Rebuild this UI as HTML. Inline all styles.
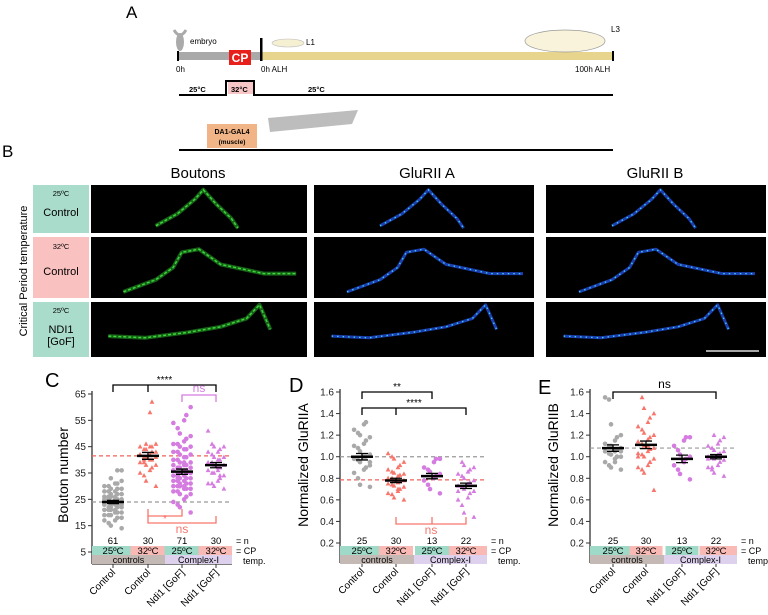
<!DOCTYPE html>
<html><head><meta charset="utf-8"><style>
body{margin:0;background:#fff}
svg{display:block;font-family:"Liberation Sans",Arial,sans-serif}
</style></head><body>
<svg id="fig" width="768" height="615" viewBox="0 0 768 615">
<g>
<text x="126" y="18" font-size="17">A</text>
<ellipse cx="180" cy="42" rx="4" ry="9" fill="#aaa"/>
<path d="M174 30 Q180 40 186 30" stroke="#aaa" stroke-width="3" fill="none"/>
<text x="190" y="44" font-size="8">embryo</text>
<rect x="178" y="52" width="83" height="8" fill="#a9a9a9"/>
<rect x="261" y="52" width="352" height="8" fill="#e7d58e"/>
<rect x="177" y="51" width="2" height="10" fill="#000"/>
<rect x="260" y="38" width="2.5" height="23" fill="#000"/>
<rect x="612" y="51" width="2" height="10" fill="#000"/>
<rect x="229" y="50" width="22" height="15" fill="#e8201c"/>
<text x="240" y="62" font-size="12" font-weight="bold" fill="#fff" text-anchor="middle">CP</text>
<text x="176" y="72" font-size="8">0h</text>
<text x="261" y="72" font-size="8">0h ALH</text>
<text x="575" y="72" font-size="8">100h ALH</text>
<ellipse cx="288" cy="43" rx="16" ry="4" fill="#f6f0d2" stroke="#bbb" stroke-width="0.6"/>
<text x="306" y="45" font-size="8">L1</text>
<ellipse cx="565" cy="41" rx="40" ry="11" fill="#f8f3da" stroke="#999" stroke-width="0.7"/>
<text x="611" y="32" font-size="8">L3</text>
<polyline points="179,95 226,95 226,81 254,81 254,95 613,95" fill="none" stroke="#000" stroke-width="2"/>
<rect x="228" y="82" width="25" height="12" fill="#f7c6c6"/>
<text x="189" y="92" font-size="7.5" font-weight="bold">25°C</text>
<text x="231" y="92" font-size="7.5" font-weight="bold">32°C</text>
<text x="308" y="92" font-size="7.5" font-weight="bold">25°C</text>
<rect x="207" y="124" width="50" height="24" fill="#f1b486"/>
<text x="232" y="134" font-size="7" font-weight="bold" text-anchor="middle">DA1-GAL4</text>
<text x="232" y="144" font-size="6.5" font-weight="bold" text-anchor="middle">(muscle)</text>
<polygon points="268,118 358,110 352,124 270,132" fill="#bdbdbd"/>
<line x1="179" y1="150" x2="613" y2="150" stroke="#000" stroke-width="2"/>
</g>
<g id="panelB">
<text x="2" y="157" font-size="17">B</text>
<text x="198" y="178" font-size="15" text-anchor="middle">Boutons</text>
<text x="427" y="178" font-size="15" text-anchor="middle">GluRII A</text>
<text x="655" y="178" font-size="15" text-anchor="middle">GluRII B</text>
<text transform="translate(27,271) rotate(-90)" font-size="11" text-anchor="middle">Critical Period temperature</text>
<rect x="33" y="185" width="56" height="48" fill="#aadccc"/>
<text x="61" y="196" font-size="7.5" text-anchor="middle">25ºC</text>
<text x="61" y="216" font-size="11" text-anchor="middle">Control</text>
<rect x="33" y="237" width="56" height="61" fill="#f9c1bf"/>
<text x="61" y="249" font-size="7.5" text-anchor="middle">32ºC</text>
<text x="61" y="275" font-size="11" text-anchor="middle">Control</text>
<rect x="33" y="302" width="56" height="55" fill="#aadccc"/>
<text x="61" y="313" font-size="7.5" text-anchor="middle">25ºC</text>
<text x="61" y="333" font-size="11" text-anchor="middle">NDI1</text>
<text x="61" y="345" font-size="11" text-anchor="middle">[GoF]</text>
</g>
<g id="panelC"></g><g id="panelD"></g><g id="panelE"></g>
</svg>
<script>
// ---------- chart data ----------
const categories = ["Control","Control","Ndi1 [GoF]","Ndi1 [GoF]"];
const cpTemps = ["25ºC","32ºC","25ºC","32ºC"];
const cTicks = [5,15,25,35,45,55,65];
const dTicks = [0.2,0.4,0.6,0.8,1.0,1.2,1.4,1.6];
const eTicks = [0.2,0.4,0.6,0.8,1.0,1.2,1.4,1.6];
const cN = [61,30,71,30];
const dN = [25,30,13,22];
const eN = [25,30,13,22];
const cMeans = [24,41.5,35.5,38];
const cSem = [0.6,1.3,1.0,1.0];
const dMeans = [1.0,0.78,0.82,0.73];
const dSem = [0.03,0.02,0.025,0.025];
const eMeans = [1.08,1.11,0.98,1.0];
const eSem = [0.03,0.035,0.035,0.02];
const cC1 = [14,15,16,17,17,18,18,19,19,19,20,20,20,21,21,21,21,22,22,22,22,23,23,23,23,23,24,24,24,24,24,24,25,25,25,25,25,26,26,26,26,27,27,27,28,28,28,29,29,29,30,30,31,31,32,33,24,23,25,36,36];
const cC2 = [30,32,34,35,36,37,38,38,39,39,40,40,41,41,41,42,42,43,43,44,44,45,45,45,46,46,40,42,58,62];
const cC3 = [20,22,23,24,25,26,27,27,28,28,29,29,29,30,30,30,30,31,31,31,32,32,32,33,33,33,34,34,34,35,35,35,35,36,36,36,37,37,37,38,38,38,39,39,40,40,41,41,42,42,43,43,44,44,45,45,46,46,47,48,49,50,52,54,55,57,60,30,33,36,39];
const cC4 = [29,30,31,31,32,33,34,35,35,36,37,37,38,38,39,39,40,40,41,41,42,43,43,44,45,45,46,51,36,34];
const dC1 = [0.72,0.74,0.8,0.85,0.88,0.9,0.92,0.95,0.97,0.98,1.0,1.0,1.02,1.05,1.08,1.1,1.12,1.15,1.18,1.2,1.22,1.25,1.3,1.32,0.95];
const dC2 = [0.6,0.62,0.65,0.66,0.68,0.7,0.72,0.73,0.74,0.75,0.76,0.77,0.78,0.78,0.8,0.8,0.82,0.83,0.84,0.85,0.86,0.88,0.9,0.92,0.95,0.98,1.0,1.03,0.7,0.77];
const dC3 = [0.66,0.7,0.74,0.78,0.8,0.82,0.84,0.86,0.88,0.9,0.95,0.98,0.98];
const dC4 = [0.44,0.48,0.55,0.6,0.62,0.66,0.68,0.7,0.72,0.73,0.75,0.76,0.78,0.8,0.82,0.84,0.86,0.88,0.9,0.92,0.95,0.68];
const eC1 = [0.88,0.9,0.92,0.95,0.98,1.0,1.0,1.02,1.03,1.05,1.05,1.07,1.08,1.1,1.1,1.12,1.15,1.18,1.2,1.3,1.53,1.55,0.95,1.0,1.05];
const eC2 = [0.69,0.85,0.88,0.9,0.92,0.95,0.98,1.0,1.02,1.03,1.05,1.07,1.08,1.1,1.12,1.14,1.16,1.18,1.2,1.22,1.25,1.28,1.32,1.36,1.4,1.45,1.55,1.0,1.1,0.95];
const eC3 = [0.79,0.84,0.88,0.92,0.95,0.98,1.0,1.02,1.06,1.1,1.15,1.18,1.18];
const eC4 = [0.82,0.85,0.88,0.9,0.92,0.95,0.97,0.98,1.0,1.0,1.02,1.03,1.05,1.06,1.08,1.1,1.12,1.15,1.18,1.2,0.9,0.98];

const NS='http://www.w3.org/2000/svg';
function mk(parent,tag,attrs,txt){const e=document.createElementNS(NS,tag);for(const k in attrs)e.setAttribute(k,attrs[k]);if(txt!==undefined)e.textContent=txt;parent.appendChild(e);return e;}

// ---------- panel B images ----------
(function(){
  const g=document.getElementById('panelB');
  const cols=[[91,216],[314,220],[546,220]], rows=[[185,48],[237,61],[302,55]];
  const shapes=[
    [[0.3,0.85],[0.4,0.6],[0.48,0.3],[0.52,0.1],[0.58,0.4],[0.65,0.7],[0.68,0.9]],
    [[0.15,0.9],[0.3,0.7],[0.38,0.5],[0.42,0.25],[0.5,0.2],[0.6,0.45],[0.8,0.6],[0.95,0.6]],
    [[0.08,0.62],[0.25,0.65],[0.45,0.55],[0.6,0.45],[0.72,0.3],[0.78,0.05],[0.83,0.5]]
  ];
  rows.forEach((rw,ri)=>cols.forEach((cl,ci)=>{
    const cx=cl[0], ry=rw[0], w=cl[1], h=rw[1];
    const r=mk(g,'rect',{x:cx,y:ry,width:w,height:h,fill:'#000'});
    
    
    const pts=shapes[ri].map(p=>(cx+p[0]*w).toFixed(1)+','+(ry+p[1]*h).toFixed(1)).join(' ');
    if(ci===0){
      mk(g,'polyline',{points:pts,fill:'none',stroke:'#1f8a1f','stroke-width':4,'stroke-linejoin':'round',opacity:0.7});
      mk(g,'polyline',{points:pts,fill:'none',stroke:'#3dd43d','stroke-width':1.5,'stroke-dasharray':'3 2'});
    } else {
      mk(g,'polyline',{points:pts,fill:'none',stroke:'#1b3fb0','stroke-width':3,'stroke-linejoin':'round'});
      mk(g,'polyline',{points:pts,fill:'none',stroke:'#3fd0e8','stroke-width':1.3,'stroke-dasharray':'1.5 4'});
    }
  }));
  const sb=mk(g,'line',{x1:706,y1:351,x2:759,y2:351,stroke:'#ddd','stroke-width':1.5});
  
  
})();

const C_GRAY='#a9a9a9', C_RED='#f7766c', C_PURP='#d57ce0';
function panel(cfg){
  const g=document.getElementById(cfg.id);
  const y=v=>cfg.y0+(v-cfg.v0)*(cfg.y1-cfg.y0)/(cfg.v1-cfg.v0);
  mk(g,'text',{x:cfg.lx,y:cfg.ly,'font-size':20},cfg.letter);
  const ax=mk(g,'line',{x1:cfg.ax,y1:cfg.y1-3,x2:cfg.ax,y2:cfg.bot,stroke:'#333','stroke-width':1.3});
  
  
  mk(g,'line',{x1:cfg.ax,y1:cfg.bot,x2:cfg.bandR,y2:cfg.bot,stroke:'#333','stroke-width':1.3});
  cfg.ticks.forEach(t=>{
    mk(g,'line',{x1:cfg.ax-4,y1:y(t),x2:cfg.ax,y2:y(t),stroke:'#333'});
    const tl=mk(g,'text',{x:cfg.ax-6,y:y(t)+3.5,'font-size':10,'text-anchor':'end',fill:'#222'},cfg.fmt(t));
    
    
  });
  const yt=mk(g,'text',{transform:`translate(${cfg.ytx},${cfg.yty}) rotate(-90)`,'font-size':14,'text-anchor':'middle'},cfg.ytitle);
  
  
  const half=(cfg.xs[1]-cfg.xs[0])/2;
  const bandC=['#9fd9c7','#f9bab6','#9fd9c7','#f9bab6'];
  cfg.xs.forEach((cx,i)=>{
    const L=i===0?cfg.ax:cx-half, R=i===3?cfg.bandR:cx+half;
    mk(g,'rect',{x:L,y:cfg.bandY,width:R-L,height:9,fill:bandC[i]});
    mk(g,'text',{x:cx,y:cfg.bandY+8,'font-size':9.5,'text-anchor':'middle'},cpTemps[i]);
    const nt=mk(g,'text',{x:cx,y:cfg.bandY-2,'font-size':9.5,'text-anchor':'middle'},cfg.n[i]);
    
    
    mk(g,'line',{x1:cx,y1:cfg.bot,x2:cx,y2:cfg.bot+4,stroke:'#333'});
    const xl=mk(g,'text',{transform:`translate(${cx+3},${cfg.bot+9}) rotate(-45)`,'font-size':10,'text-anchor':'end'},categories[i]);
    
    
  });
  const mid=(cfg.xs[1]+cfg.xs[2])/2;
  mk(g,'rect',{x:cfg.ax,y:cfg.bandY+9,width:mid-cfg.ax,height:9,fill:'#c5b9b5'});
  mk(g,'rect',{x:mid,y:cfg.bandY+9,width:cfg.bandR-mid,height:9,fill:'#ddd1ed'});
  mk(g,'text',{x:(cfg.ax+mid)/2,y:cfg.bandY+17,'font-size':9,'text-anchor':'middle'},'controls');
  mk(g,'text',{x:(mid+cfg.bandR)/2,y:cfg.bandY+17,'font-size':9,'text-anchor':'middle'},'Complex-I');
  mk(g,'text',{x:cfg.bandR+4,y:cfg.bandY-2,'font-size':9},'= n');
  mk(g,'text',{x:cfg.bandR+4,y:cfg.bandY+8,'font-size':9},'= CP');
  mk(g,'text',{x:cfg.bandR+11,y:cfg.bandY+18,'font-size':9},'temp.');
  cfg.dashes.forEach(d=>{
    const l=mk(g,'line',{x1:cfg.ax,y1:y(d[0]),x2:cfg.bandR,y2:y(d[0]),stroke:d[1],'stroke-width':d[2],'stroke-dasharray':'4 3'});
    
    
  });
  const colors=[C_GRAY,C_RED,C_PURP,C_PURP], tri=[false,true,false,true];
  cfg.series.forEach((arr,si)=>{
    const spread=arr.length>40?2.4:2.2;
    arr.forEach((v,i)=>{
      const off=(((i*3)%9)-4)*spread*(i%2?1:-1)*0.9;
      const px=cfg.xs[si]+off, py=y(v);
      let m;
      if(tri[si]) m=mk(g,'polygon',{points:`${px},${py-2.6} ${px-2.4},${py+1.8} ${px+2.4},${py+1.8}`,fill:colors[si]});
      else m=mk(g,'circle',{cx:px,cy:py,r:2.3,fill:colors[si]});
      
      
    });
    const mx=cfg.xs[si], mv=y(cfg.means[si]), hi=y(cfg.means[si]+cfg.sem[si]), lo=y(cfg.means[si]-cfg.sem[si]);
    const ml=mk(g,'line',{x1:mx-11,y1:mv,x2:mx+11,y2:mv,stroke:'#000','stroke-width':2.5});
    
    
    mk(g,'path',{d:`M${mx-6},${hi}H${mx+6}M${mx},${hi}V${lo}M${mx-6},${lo}H${mx+6}`,stroke:'#000','stroke-width':1.3,fill:'none'});
  });
  cfg.brackets.forEach(b=>{
    const [a,c,yy,label,col,dir,ty,extra]=b;
    const x1=cfg.xs[a],x2=cfg.xs[c],s=dir*7;
    let d=`M${x1},${yy+s}V${yy}H${x2}V${yy+s}`;
    if(extra!==undefined) d+=`M${cfg.xs[extra]},${yy}V${yy+s}`;
    mk(g,'path',{d:d,stroke:col,'stroke-width':1.3,fill:'none'});
    const t=mk(g,'text',{x:(x1+x2)/2,y:ty,'font-size':label.indexOf('*')>=0?10:12,'text-anchor':'middle',fill:col},label);
    
    
  });
}
panel({id:'panelC',letter:'C',lx:45,ly:387,ax:92,v0:5,v1:65,y0:552,y1:394,bot:564,bandY:546,bandR:232,
  xs:[113,148,182,216],ticks:cTicks,fmt:t=>t,ytitle:'Bouton number',ytx:68,yty:475,n:cN,
  series:[cC1,cC2,cC3,cC4],means:cMeans,sem:cSem,
  dashes:[[41.5,'#f0615a',1.3],[24,'#999',1.2]],
  brackets:[[0,3,385,'****','#000',1,383,1],[2,3,395,'ns',C_PURP,1,392],[1,2,516,'*',C_RED,-1,522],[1,3,523,'ns',C_RED,-1,533]]});
panel({id:'panelD',letter:'D',lx:289,ly:392,ax:340,v0:0.2,v1:1.6,y0:543,y1:392,bot:563,bandY:546,bandR:487,
  xs:[362,396,432,466],ticks:dTicks,fmt:t=>t.toFixed(1),ytitle:'Normalized GluRIIA',ytx:308,yty:465,n:dN,
  series:[dC1,dC2,dC3,dC4],means:dMeans,sem:dSem,
  dashes:[[1.0,'#999',1.2],[0.785,'#f0615a',1.3]],
  brackets:[[0,2,392,'**','#000',1,390],[0,3,408,'****','#000',1,406,1],[1,3,524,'ns',C_RED,-1,534,2]]});
panel({id:'panelE',letter:'E',lx:538,ly:394,ax:590,v0:0.2,v1:1.6,y0:543,y1:392,bot:563,bandY:546,bandR:737,
  xs:[613,646,682,716],ticks:eTicks,fmt:t=>t.toFixed(1),ytitle:'Normalized GluRIIB',ytx:558,yty:465,n:eN,
  series:[eC1,eC2,eC3,eC4],means:eMeans,sem:eSem,
  dashes:[[1.08,'#999',1.2]],
  brackets:[[0,3,392,'ns','#000',1,388]]});
</script>
</body></html>
